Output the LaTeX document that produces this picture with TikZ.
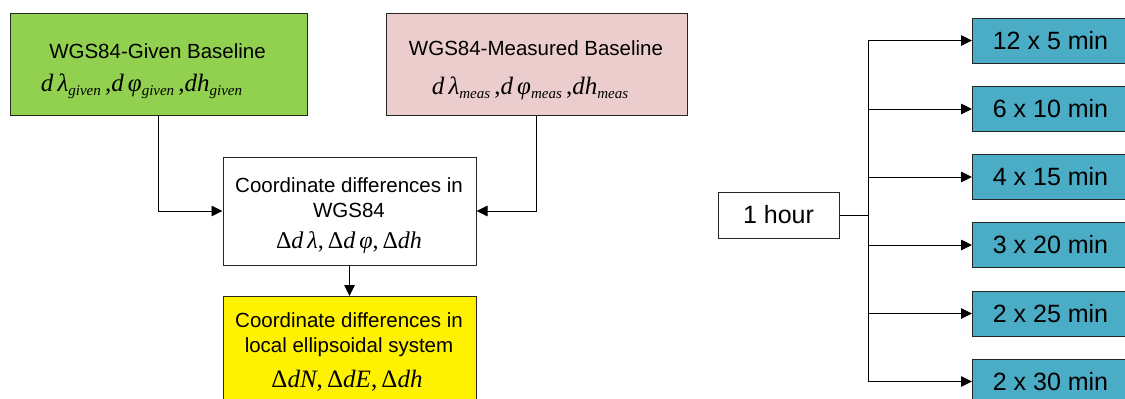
\documentclass[tikz,border=0pt]{standalone}
\usepackage{fontspec}
\setmainfont{Liberation Sans}
\newfontfamily\tms{Liberation Serif}
\usetikzlibrary{arrows.meta}
\definecolor{gfill}{RGB}{146,208,80}
\definecolor{pfill}{RGB}{236,205,205}
\definecolor{tfill}{RGB}{75,172,198}
\newcommand\mi[1]{{\tms\itshape #1}}
\newcommand\up[1]{{\tms #1}}
\newcommand\sbs[1]{\raisebox{-4.5pt}{\fontsize{15}{15}\selectfont\tms\itshape #1}}
\tikzset{
  box/.style={draw=black!85, line width=1pt, rectangle, inner sep=0pt},
  lbl/.style={anchor=base, inner sep=0pt, font=\fontsize{20.5}{24}\selectfont},
  mth/.style={anchor=base, inner sep=0pt, font=\fontsize{25}{28}\selectfont},
  tbox/.style={box, fill=tfill, minimum width=156pt, minimum height=45pt, font=\fontsize{25}{28}\selectfont},
  conn/.style={draw=black, line width=0.9pt},
  arr/.style={conn, -{Triangle[length=11pt,width=10.5pt]}}
}
\begin{document}
\begin{tikzpicture}[x=1pt,y=-1pt]
\useasboundingbox (0,0) rectangle (1125,399);
\clip (0,0) rectangle (1125,399);
% left boxes
\node[box, fill=gfill, minimum width=297pt, minimum height=102pt] (given) at (158.5,64) {};
\node[box, fill=pfill, minimum width=301pt, minimum height=102pt] (meas) at (536.5,64) {};
\node[box, fill=white, minimum width=253pt, minimum height=108pt] (diff) at (349.5,211) {};
\node[box, fill=yellow, minimum width=253pt, minimum height=120pt, anchor=north] (local) at (349.5,296) {};
% texts
\node[lbl] (gt) at (157.5,58) {WGS84-Given Baseline};
\node[mth] (gm) at (141.5,91) {\mi{d\,λ}\sbs{given}\,\up{,}\mi{d\,φ}\sbs{given}\,\up{,}\mi{dh}\sbs{given}};
\node[lbl] (mt) at (536,55) {WGS84-Measured Baseline};
\node[mth] (mm) at (530,94) {\mi{d\,λ}\sbs{meas}\,\up{,}\mi{d\,φ}\sbs{meas}\,\up{,}\mi{dh}\sbs{meas}};
\node[lbl] (d1) at (349,192) {Coordinate differences in};
\node[lbl] (d2) at (349,217) {WGS84};
\node[mth, font=\fontsize{24}{28}\selectfont] (d3) at (349,248) {\up{Δ}\mi{d\,λ}\up{,}\,\up{Δ}\mi{d\,φ}\up{,}\,\up{Δ}\mi{dh}};
\node[lbl] (l1) at (349,327) {Coordinate differences in};
\node[lbl] (l2) at (349,352) {local ellipsoidal system};
\node[mth] (l3) at (347,387) {\up{Δ}\mi{dN}\up{,}\,\up{Δ}\mi{dE}\up{,}\,\up{Δ}\mi{dh}};
% left connectors
\draw[arr] (given.south) |- (diff.west);
\draw[arr] (meas.south) |- (diff.east);
\draw[arr] (diff.south) -- (local.north);
% right side
\node[box, fill=white, minimum width=121pt, minimum height=46pt, font=\fontsize{25}{28}\selectfont] (hour) at (778.5,215) {1 hour};
\node[tbox, anchor=west] (b1) at (972,40.5) {12 x 5 min};
\node[tbox, anchor=west] (b2) at (972,109) {6 x 10 min};
\node[tbox, anchor=west] (b3) at (972,177) {4 x 15 min};
\node[tbox, anchor=west] (b4) at (972,245) {3 x 20 min};
\node[tbox, anchor=west] (b5) at (972,313.5) {2 x 25 min};
\node[tbox, anchor=west] (b6) at (972,381.5) {2 x 30 min};
\coordinate (tr) at (868,215);
\draw[conn] (hour.east) -- (tr);
\draw[conn] (tr |- b1.west) -- (tr |- b6.west);
\foreach \b in {b1,b2,b3,b4,b5,b6}{
  \draw[arr] (tr |- \b.west) -- (\b.west);
}
\end{tikzpicture}
\end{document}
